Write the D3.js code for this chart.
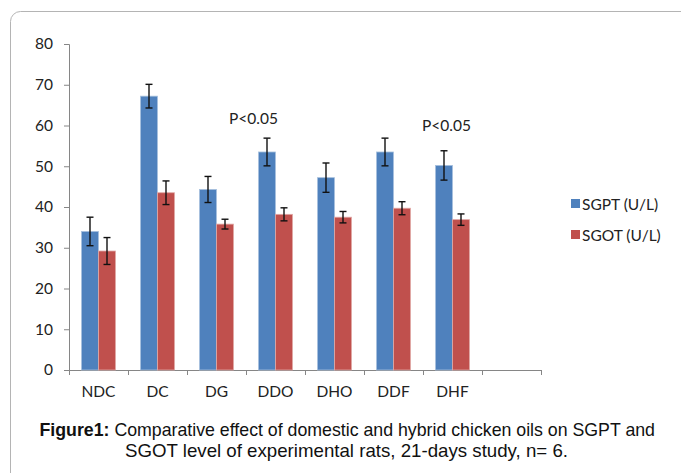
<!DOCTYPE html>
<html>
<head>
<meta charset="utf-8">
<script src="https://cdn.jsdelivr.net/npm/d3@7"></script>
<style>
  body { margin: 0; background: #fff; }
  svg { display: block; }
  .tick text { font-family: Lato, "Open Sans", sans-serif; font-size: 15.5px; fill: #222; }
  .caption { font-family: "Liberation Sans Narrow", "Arial Narrow", "Liberation Sans", sans-serif; font-size: 18.5px; fill: #111; }
</style>
</head>
<body>
<div id="chart"></div>
<script>
const categories = ['NDC', 'DC', 'DG', 'DDO', 'DHO', 'DDF', 'DHF'];
const seriesNames = ['SGPT (U/L)', 'SGOT (U/L)'];
const sgpt = [34.0, 67.2, 44.3, 53.5, 47.2, 53.5, 50.2];
const sgptErr = [3.5, 2.9, 3.2, 3.4, 3.6, 3.4, 3.6];
const sgot = [29.2, 43.5, 35.8, 38.2, 37.5, 39.7, 36.9];
const sgotErr = [3.3, 2.9, 1.2, 1.6, 1.4, 1.6, 1.4];
const yTicks = [0, 10, 20, 30, 40, 50, 60, 70, 80];
const notes = ['P<0.05', 'P<0.05'];
const noteCats = ['DDO', 'DHF'];
const noteValues = [60.3, 58.7];

const w = 681;
const h = 473;
const colors = ['#4F81BD', '#C0504D'];
const edges = ['#a7c0de', '#e0a8a6'];
const labelFont = 'Lato, "Open Sans", sans-serif';

const svg = d3.select('#chart')
              .append('svg')
              .attr('width', w)
              .attr('height', h);

// card border
svg.append('rect')
   .attr('x', 10.5)
   .attr('y', 11.5)
   .attr('width', 720)
   .attr('height', 520)
   .attr('rx', 10)
   .attr('fill', 'none')
   .attr('stroke', '#b4b4b4');

// one empty slot at the end, like the original
const slots = categories.concat(['']);
const xScale = d3.scaleBand()
                 .domain(slots)
                 .range([69, 541]);
const xInner = d3.scaleBand()
                 .domain([0, 1])
                 .range([12.5, xScale.bandwidth() - 12.5]);
const yScale = d3.scaleLinear()
                 .domain([0, 80])
                 .range([370, 44]);

const yAxis = d3.axisLeft(yScale)
                .tickValues(yTicks)
                .tickSize(5)
                .tickPadding(11);

const gy = svg.append('g')
   .attr('transform', 'translate(' + xScale.range()[0] + ', 0)')
   .call(yAxis);
gy.select('.domain').attr('stroke', '#868686');
gy.selectAll('.tick line').attr('stroke', '#868686');

// x axis: line with ticks between categories
const xBase = yScale(0);
svg.append('line')
   .attr('x1', xScale.range()[0])
   .attr('x2', xScale.range()[1])
   .attr('y1', xBase + 0.5)
   .attr('y2', xBase + 0.5)
   .attr('stroke', '#868686');
svg.selectAll('.xtick')
   .data(slots.concat(['end']))
   .enter()
   .append('line')
   .attr('class', 'xtick')
   .attr('x1', (d, i) => xScale.range()[0] + i * xScale.step() + 0.5)
   .attr('x2', (d, i) => xScale.range()[0] + i * xScale.step() + 0.5)
   .attr('y1', xBase)
   .attr('y2', xBase + 5)
   .attr('stroke', '#868686');
svg.selectAll('.xlabel')
   .data(categories)
   .enter()
   .append('text')
   .attr('class', 'xlabel')
   .attr('x', d => xScale(d) + xScale.bandwidth() / 2)
   .attr('y', 397)
   .attr('text-anchor', 'middle')
   .attr('font-family', labelFont)
   .attr('font-size', 15.5)
   .attr('fill', '#222')
   .text(d => d);

const series = [sgpt, sgot];
const errs = [sgptErr, sgotErr];

series.forEach((vals, s) => {
  const g = svg.append('g');
  g.selectAll('rect')
   .data(vals)
   .enter()
   .append('rect')
   .attr('x', (d, i) => xScale(categories[i]) + xInner(s))
   .attr('y', d => yScale(d))
   .attr('width', xInner.bandwidth())
   .attr('height', d => yScale(0) - yScale(d))
   .attr('fill', colors[s])
   .attr('stroke', edges[s])
   .attr('stroke-width', 0.8);

  const eg = g.selectAll('.err')
              .data(vals)
              .enter()
              .append('g')
              .attr('class', 'err')
              .attr('stroke', '#111')
              .attr('stroke-width', 1.4);
  const cx = i => xScale(categories[i]) + xInner(s) + xInner.bandwidth() / 2;
  eg.append('line')
    .attr('x1', (d, i) => cx(i))
    .attr('x2', (d, i) => cx(i))
    .attr('y1', (d, i) => yScale(d + errs[s][i]))
    .attr('y2', (d, i) => yScale(d - errs[s][i]));
  eg.append('line')
    .attr('x1', (d, i) => cx(i) - 3.5)
    .attr('x2', (d, i) => cx(i) + 3.5)
    .attr('y1', (d, i) => yScale(d + errs[s][i]))
    .attr('y2', (d, i) => yScale(d + errs[s][i]));
  eg.append('line')
    .attr('x1', (d, i) => cx(i) - 3.5)
    .attr('x2', (d, i) => cx(i) + 3.5)
    .attr('y1', (d, i) => yScale(d - errs[s][i]))
    .attr('y2', (d, i) => yScale(d - errs[s][i]));
});

// significance notes
const noteShift = [-22, -6];
svg.selectAll('.note')
   .data(notes)
   .enter()
   .append('text')
   .attr('class', 'note')
   .attr('x', (d, i) => xScale(noteCats[i]) + xScale.bandwidth() / 2 + noteShift[i])
   .attr('y', (d, i) => yScale(noteValues[i]))
   .attr('text-anchor', 'middle')
   .attr('font-family', labelFont)
   .attr('font-size', 15.5)
   .attr('fill', '#222')
   .text(d => d);

// legend
const legend = svg.selectAll('.legend')
                  .data(seriesNames)
                  .enter()
                  .append('g')
                  .attr('class', 'legend')
                  .attr('transform', (d, i) => 'translate(571, ' + (199 + i * 31) + ')');
legend.append('rect')
      .attr('width', 9)
      .attr('height', 9)
      .attr('fill', (d, i) => colors[i]);
legend.append('text')
      .attr('x', 11)
      .attr('y', 10.5)
      .attr('font-family', labelFont)
      .attr('font-size', 15.5)
      .attr('fill', '#222')
      .text(d => d);

// caption
const cap1 = svg.append('text')
                .attr('class', 'caption')
                .attr('x', 39.5)
                .attr('y', 435.5)
                .attr('textLength', 615.5)
                .attr('lengthAdjust', 'spacingAndGlyphs');
cap1.append('tspan').attr('font-weight', 'bold').text('Figure1:');
cap1.append('tspan').text(' Comparative effect of domestic and hybrid chicken oils on SGPT and');
svg.append('text')
   .attr('class', 'caption')
   .attr('x', 125)
   .attr('y', 457)
   .attr('textLength', 443)
   .attr('lengthAdjust', 'spacingAndGlyphs')
   .text('SGOT level of experimental rats, 21-days study, n= 6.');
</script>
</body>
</html>
